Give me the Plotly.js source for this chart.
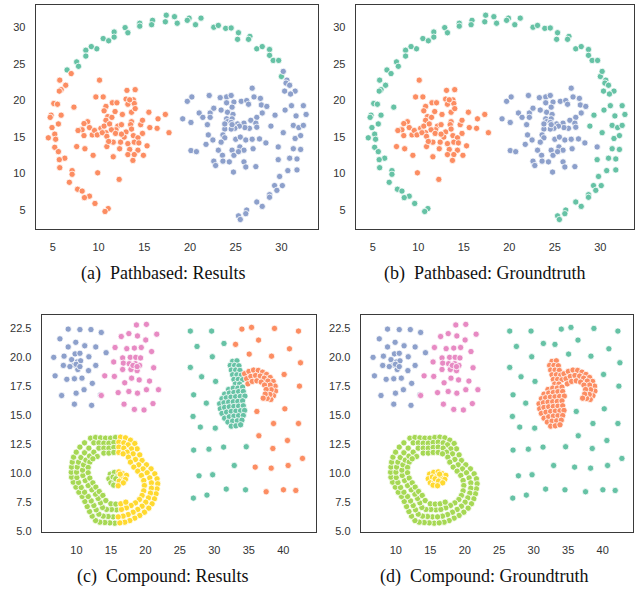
<!DOCTYPE html>
<html><head><meta charset="utf-8">
<script src="https://cdn.plot.ly/plotly-3.0.1.min.js"></script>
<style>html,body{margin:0;padding:0;background:#fff}#chart{width:640px;height:589px}</style>
</head><body><div id="chart"></div>
<script>
// ---------- Pathbased dataset ----------
const pathArcTopX=[17.4,18.3,19.9,19.7,21.2,17.3,18.6,20.6,15.9,15.8,14.5,14.5,12.9,13.2,11.7,11.7,10.5,11.1,9.8,9.2,8.6,8.6,7.6,7.8,6.55,22.6,23.1,23.9,24.5,25.3,25.2,26.55,26.4,27.3,27.9,28.7,28.7,29.1,29.7,30.0];
const pathArcTopY=[31.7,31.5,31.3,31.0,31.3,30.8,30.6,30.4,31.0,30.4,30.6,30.2,30.0,29.3,29.4,28.7,28.5,28.2,27.1,27.4,26.9,26.1,25.3,24.7,24.2,30.05,30.3,29.9,29.95,29.3,28.4,28.8,28.4,27.1,27.4,27.0,26.2,25.5,25.5,23.3];
const pathArcLeftX=[7.0,5.75,6.4,5.9,5.7,5.1,5.5,5.9,4.8,4.7,4.9,5.6,5.2,4.5,5.3,5.2,5.6,6.3,5.7,5.75,7.1,7.1,6.8,7.7,8.2,9.0,8.45,9.6,11.05,10.7,7.3];
const pathArcLeftY=[23.7,22.8,22.1,21.5,21.3,19.6,19.5,18.0,18.0,17.7,16.3,16.8,15.4,14.9,14.7,13.6,13.0,12.1,11.9,10.8,10.4,9.9,8.8,7.85,7.6,6.9,6.7,5.9,5.2,4.8,19.1];
const pathArcRightX=[30.2,30.6,30.5,30.9,30.35,31.5,31.0,31.1,32.4,30.4,29.3,31.6,32.7,28.85,31.3,31.9,32.4,30.2,31.5,32.1,31.3,32.1,30.9,31.7,29.65,31.7,30.7,29.8,29.25,30.1,29.5,28.7,28.7,27.3,27.9,26.2,26.1,25.3,25.5];
const pathArcRightY=[24.0,22.8,22.4,22.1,21.3,21.3,20.9,19.3,19.3,18.7,18.0,17.9,18.1,16.5,16.6,16.3,16.6,15.6,14.8,15.2,13.4,13.3,12.1,12.0,11.9,10.5,10.4,9.6,8.35,8.35,7.7,7.1,6.75,6.1,5.5,5.0,4.5,4.2,3.7];
const pathLeftX=[10.1,9.7,10.5,13.1,14.0,13.0,13.8,11.5,12.0,10.8,10.6,13.2,13.9,12.6,13.6,15.5,17.3,11.0,11.45,10.8,8.8,8.4,8.1,9.0,8.2,7.75,8.4,9.3,9.55,10.25,10.6,11.2,12.1,12.5,13.6,13.5,14.6,14.8,16.5,15.6,16.4,17.7,13.6,13.0,11.9,11.4,10.8,9.85,10.4,10.9,12.8,13.8,14.8,14.3,11.6,10.9,7.6,8.5,9.4,11.6,12.3,12.4,13.2,13.9,14.4,15.3,13.4,14.3,13.2,13.9,14.9,13.75,9.9,12.25,11.85,11.1,12.5,13.4,11.8,14.0];
const pathLeftY=[22.8,20.5,20.5,21.4,21.5,20.2,20.1,19.7,19.7,19.2,18.6,19.5,19.6,18.1,18.4,18.4,18.1,17.8,17.7,17.3,17.1,16.85,16.0,16.3,16.0,15.9,15.2,15.3,15.9,16.2,16.5,16.8,16.5,16.7,17.1,16.7,16.7,17.3,17.5,16.3,16.2,15.6,16.1,15.7,16.0,16.0,15.6,15.3,15.6,15.1,15.0,15.2,15.5,14.9,14.3,13.7,13.7,13.4,12.5,12.3,13.4,14.3,14.1,14.3,14.2,13.8,13.3,13.2,12.6,12.6,12.5,11.8,10.1,9.2,15.5,14.4,15.4,20.1,18.5,18.9];
const pathRightX=[19.7,20.2,22.1,23.3,24.0,24.5,24.8,24.0,25.6,26.2,26.4,26.8,27.0,27.7,27.8,28.4,21.0,21.4,22.2,22.6,23.4,24.1,24.6,24.7,27.9,27.3,19.2,20.1,22.2,21.9,24.0,24.6,24.1,24.5,25.2,25.9,26.65,27.2,27.3,26.5,26.0,25.4,24.9,24.5,23.8,23.6,23.8,22.0,21.75,22.5,23.4,25.0,25.5,26.1,26.8,27.6,28.3,20.1,20.7,23.1,24.6,25.45,25.9,26.9,23.55,24.8,25.3,22.6,22.8,23.6,24.3,25.9,26.1,27.2,24.75,29.65,24.6,23.8];
const pathRightY=[19.9,20.5,20.7,20.4,20.5,20.7,19.8,19.7,19.9,20.0,19.5,21.7,20.5,20.3,19.4,19.2,18.3,17.7,18.3,18.95,18.7,18.4,19.1,18.1,18.3,17.7,17.5,17.0,17.7,16.7,17.5,17.5,17.1,17.0,16.8,16.9,17.3,16.9,16.35,16.2,16.3,16.5,16.2,16.1,16.1,15.3,14.9,15.3,14.0,14.6,14.3,14.7,15.0,14.6,14.7,14.75,14.2,13.15,13.0,13.2,13.2,13.65,13.2,13.4,12.5,12.5,13.0,11.7,11.1,11.7,11.6,11.6,10.9,10.95,10.2,13.65,16.7,16.8];

// ---------- Compound dataset ----------
const compBlueX=[8.8,10.5,12.1,13.6,7.6,9.9,11.2,12.8,8.8,14.3,9.8,10.5,11.8,6.7,8.2,9.3,10.1,10.35,9.7,10.2,9.05,8.1,12.8,11.75,6.9,8.6,9.7,10.8,12.3,9.95,11.1,7.85,13.5,9.7,12.2,10.6,9.95,10.5];
const compBlueY=[22.44,22.4,22.4,22.15,21.6,21.3,21.0,20.9,20.9,20.4,20.3,20.35,20.05,20.0,20.1,19.8,19.6,19.3,19.35,18.95,19.2,19.3,19.3,18.85,18.4,18.1,18.15,18.2,17.75,16.9,17.2,16.7,16.75,15.95,15.85,19.7,19.4,19.2];
const compPinkX=[18.7,20.15,21.65,16.5,17.6,18.85,20.05,15.6,17.3,18.4,19.4,20.9,15.4,16.7,17.8,18.6,19.3,16.8,17.65,18.55,18.1,18.5,19.15,18.8,17.9,16.7,21.2,14.1,15.5,17.0,18.0,19.1,20.6,21.9,16.05,17.6,18.85,13.6,16.9,18.4,19.8,21.1,20.15,18.2,18.8];
const compPinkY=[22.8,22.85,22.0,21.8,22.05,21.85,21.5,20.85,20.75,20.8,20.85,20.5,19.6,19.95,20.0,20.0,19.95,19.5,19.45,19.45,19.2,19.0,19.3,18.85,18.95,18.95,19.1,18.4,18.35,17.8,18.2,18.05,17.95,17.2,16.95,17.05,16.9,16.7,15.95,15.5,15.45,16.0,17.2,19.3,19.2];
const ringLeftX=[12.04,12.77,13.49,14.21,14.94,15.66,15.56,14.84,14.12,13.39,12.77,12.28,11.90,11.56,11.22,10.83,10.35,9.92,9.53,9.29,9.24,9.29,9.39,9.58,9.97,10.50,11.17,
 12.52,13.25,13.97,14.70,15.42,15.32,14.60,13.88,13.25,12.86,12.52,12.14,11.70,11.17,10.69,10.30,10.06,10.01,10.11,10.30,10.64,11.17,11.80,
 13.25,13.97,14.70,15.42,15.81,15.08,14.36,13.78,13.49,13.15,12.77,12.23,11.70,11.27,10.93,10.88,11.03,11.37,11.90,12.52,
 13.97,14.70,15.42,11.94,11.70,11.70,11.94,12.38,12.81,13.30,13.83,14.26,14.99,15.71,13.01,12.38];
const ringLeftY=[13.01,13.07,13.04,13.01,13.01,13.07,5.66,5.69,5.72,5.75,5.89,6.27,6.67,7.10,7.54,7.97,8.34,8.78,9.21,9.64,10.07,10.51,10.94,11.37,11.80,12.24,12.61,
 12.61,12.61,12.58,12.58,12.64,6.21,6.24,6.27,6.44,6.82,7.19,7.59,7.97,8.34,8.75,9.18,9.61,10.07,10.51,10.94,11.34,11.75,12.15,
 12.15,12.15,12.15,12.21,6.82,6.85,6.85,7.02,7.42,7.80,8.17,8.55,8.92,9.35,9.79,10.25,10.71,11.11,11.46,11.80,
 11.72,11.72,11.78,10.94,10.48,10.02,9.56,9.15,8.78,8.40,8.06,7.62,7.34,7.31,11.43,11.23];
const ringRightX=[16.38,17.11,17.83,18.46,18.80,19.18,19.52,20.15,20.82,21.36,21.69,21.79,21.69,21.55,21.31,20.97,20.49,19.86,19.18,18.46,17.74,17.01,16.29,
 16.14,16.87,17.50,17.98,18.22,18.56,19.04,19.67,20.25,20.63,20.87,20.87,20.73,20.44,20.05,19.52,18.89,18.22,17.50,16.77,16.05,
 16.14,16.87,17.35,17.54,17.83,18.32,18.89,19.42,19.76,19.86,19.76,19.52,19.14,18.56,17.93,17.25,16.53,
 16.14,16.77,16.43,17.16];
const ringRightY=[13.10,13.04,12.84,12.55,12.09,11.57,11.08,10.71,10.36,9.93,9.50,9.07,8.63,8.20,7.77,7.34,6.96,6.61,6.33,6.10,5.89,5.75,5.69,
 12.67,12.61,12.44,12.09,11.66,11.17,10.71,10.36,10.02,9.58,9.15,8.69,8.26,7.85,7.48,7.13,6.85,6.61,6.41,6.27,6.21,
 12.24,12.15,11.80,11.37,10.94,10.51,10.16,9.79,9.35,8.92,8.46,8.06,7.71,7.42,7.19,6.99,6.85,
 11.78,11.66,7.34,7.48];
const coreLeftX=[14.9,15.5,14.7,15.3,15.95,15.0,15.6,15.4,15.7];
const coreLeftY=[9.9,10.05,9.5,9.65,9.7,9.15,9.25,8.95,9.5];
const coreRightX=[16.15,16.7,17.25,16.55,17.1,16.2,16.8,16.05,16.35];
const coreRightY=[10.1,9.95,9.8,9.6,9.45,9.3,9.15,8.9,9.9];
const sparseLeftX=[26.52,29.61,27.49,31.4,29.71,26.52,28.16,30.19,27.0,28.84,26.91,27.97,30.14,27.0,29.22,31.35,34.63,32.89,27.78,29.76,31.73,34.53,26.96,28.93];
const sparseLeftY=[22.27,22.27,20.94,21.2,20.05,19.13,18.32,17.92,16.76,16.04,14.89,13.97,13.88,11.98,12.06,12.24,12.27,10.65,9.76,9.85,8.61,8.55,7.83,8.09];
const sparseRightX=[34.0,35.4,38.73,42.21,33.08,36.42,40.9,35.06,38.3,42.5,40.13,42.35,36.17,40.23,38.59,42.21,36.46,40.61,38.49,42.79,35.93,38.25,40.71,37.52,40.03,41.82];
const sparseRightY=[22.44,22.59,22.5,22.27,21.12,21.49,20.74,20.28,20.1,19.53,18.52,17.51,15.32,15.55,14.28,14.28,13.22,12.81,12.12,11.26,10.51,10.42,10.65,8.38,8.55,8.49];
const blobX=[32.65,33.28,32.31,32.94,33.57,32.46,33.09,33.71,32.65,33.28,33.91,32.84,33.47,34.10,33.04,33.66,
 32.07,32.75,33.42,34.10,31.49,32.17,32.84,33.52,34.20,31.11,31.73,32.41,33.09,33.76,34.44,30.77,31.40,32.07,32.75,33.42,34.10,
 30.87,31.49,32.17,32.84,33.52,34.20,31.11,31.78,32.46,33.13,33.81,34.39,31.49,32.17,32.84,33.52,34.20,31.97,32.65,33.33,34.0,32.46,33.13,33.81];
const blobY=[19.65,19.70,19.30,19.30,19.27,18.90,18.90,18.87,18.49,18.49,18.46,18.09,18.09,18.06,17.69,17.69,
 17.22,17.34,17.34,17.43,16.82,16.91,16.96,17.03,17.05,16.42,16.50,16.56,16.59,16.62,16.65,15.98,16.07,16.13,16.16,16.19,16.24,
 15.55,15.67,15.72,15.75,15.78,15.81,15.15,15.26,15.32,15.35,15.38,15.41,14.74,14.86,14.92,14.95,14.97,14.40,14.49,14.51,14.57,14.05,14.08,14.17];
const arcX=[34.39,35.02,35.69,36.37,36.99,37.57,38.10,38.54,38.83,38.88,38.59,38.2,
 34.68,35.30,35.98,36.66,37.24,37.77,38.10,38.25,38.06,37.67,
 34.87,35.50,36.17,36.80,37.28,37.52,37.38,37.09];
const arcY=[18.58,18.78,18.90,18.87,18.72,18.52,18.26,17.92,17.51,17.08,16.68,16.36,
 18.15,18.35,18.43,18.38,18.20,17.95,17.60,17.20,16.79,16.45,
 17.71,17.92,17.97,17.86,17.60,17.22,16.82,16.47];

// tick labels
const pathTicks=[5,10,15,20,25,30];
const compXTicks=[10,15,20,25,30,35,40];
const compYTicks=[5,7.5,10,12.5,15,17.5,20,22.5];
const captions=['(a)\u00a0 Pathbased: Results','(b)\u00a0 Pathbased: Groundtruth','(c)\u00a0 Compound: Results','(d)\u00a0 Compound: Groundtruth'];

const COL={green:'#66c2a5',orange:'#fc8d62',blue:'#8da0cb',pink:'#e78ac3',lime:'#a6d854',yellow:'#ffd92f'};
const cat=(...a)=>[].concat(...a);
function pts(x,y,color,n){
  return {type:'scatter',mode:'markers',x:x,y:y,xaxis:'x'+(n>1?n:''),yaxis:'y'+(n>1?n:''),
    marker:{color:color,size:6.3,line:{color:'#ffffff',width:0.8}},hoverinfo:'skip',showlegend:false};
}
const data=[
  pts(pathArcTopX,pathArcTopY,COL.green,1),
  pts(cat(pathArcLeftX,pathLeftX),cat(pathArcLeftY,pathLeftY),COL.orange,1),
  pts(cat(pathArcRightX,pathRightX),cat(pathArcRightY,pathRightY),COL.blue,1),
  pts(cat(pathArcTopX,pathArcLeftX,pathArcRightX),cat(pathArcTopY,pathArcLeftY,pathArcRightY),COL.green,2),
  pts(pathLeftX,pathLeftY,COL.orange,2),
  pts(pathRightX,pathRightY,COL.blue,2),
  pts(compBlueX,compBlueY,COL.blue,3),
  pts(compPinkX,compPinkY,COL.pink,3),
  pts(cat(ringLeftX,coreLeftX),cat(ringLeftY,coreLeftY),COL.lime,3),
  pts(cat(ringRightX,coreRightX),cat(ringRightY,coreRightY),COL.yellow,3),
  pts(cat(sparseLeftX,blobX),cat(sparseLeftY,blobY),COL.green,3),
  pts(cat(sparseRightX,arcX),cat(sparseRightY,arcY),COL.orange,3),
  pts(compBlueX,compBlueY,COL.blue,4),
  pts(compPinkX,compPinkY,COL.pink,4),
  pts(cat(ringLeftX,ringRightX),cat(ringLeftY,ringRightY),COL.lime,4),
  pts(cat(coreLeftX,coreRightX),cat(coreLeftY,coreRightY),COL.yellow,4),
  pts(cat(sparseLeftX,sparseRightX),cat(sparseLeftY,sparseRightY),COL.green,4),
  pts(cat(blobX,arcX),cat(blobY,arcY),COL.orange,4)
];

const W=640,H=589;
function dx(a,b){return [a/W,b/W];}
function dy(top,bot){return [(H-bot)/H,(H-top)/H];}
function axis(domain,range,tickvals,anchor,fmt){
  const o={domain:domain,range:range,tickvals:tickvals,anchor:anchor,showline:true,mirror:true,linecolor:'#3a3a3a',linewidth:1.3,
    showgrid:false,zeroline:false,ticks:'outside',ticklen:7,tickcolor:'rgba(0,0,0,0)',
    tickfont:{family:'Liberation Sans, Arial, sans-serif',size:11,color:'#333'},fixedrange:true};
  if(fmt) o.tickformat=fmt;
  return o;
}
const layout={width:W,height:H,margin:{l:0,r:0,t:0,b:0},paper_bgcolor:'#fff',plot_bgcolor:'#fff',showlegend:false,
  xaxis:axis(dx(36,318),[3.15,34.0],pathTicks,'y'),
  yaxis:axis(dy(5,229),[2.4,33.1],pathTicks,'x'),
  xaxis2:axis(dx(356,634),[3.15,33.7],pathTicks,'y2'),
  yaxis2:axis(dy(5,229),[2.4,33.1],pathTicks,'x2'),
  xaxis3:axis(dx(42,316),[5.0,44.75],compXTicks,'y3'),
  yaxis3:axis(dy(315,532),[4.9,23.66],compYTicks,'x3','.1f'),
  xaxis4:axis(dx(361,633),[4.95,44.4],compXTicks,'y4'),
  yaxis4:axis(dy(315,532),[4.9,23.66],compYTicks,'x4','.1f'),
  annotations:[[163,274],[484,274],[163,576],[484,576]].map((p,i)=>({xref:'paper',yref:'paper',x:p[0]/W,y:1-p[1]/H,
    xanchor:'center',yanchor:'middle',showarrow:false,text:captions[i],
    font:{family:'"Liberation Serif", serif',size:18,color:'#111'}}))
};
Plotly.newPlot('chart',data,layout,{staticPlot:true,displayModeBar:false});
</script></body></html>
